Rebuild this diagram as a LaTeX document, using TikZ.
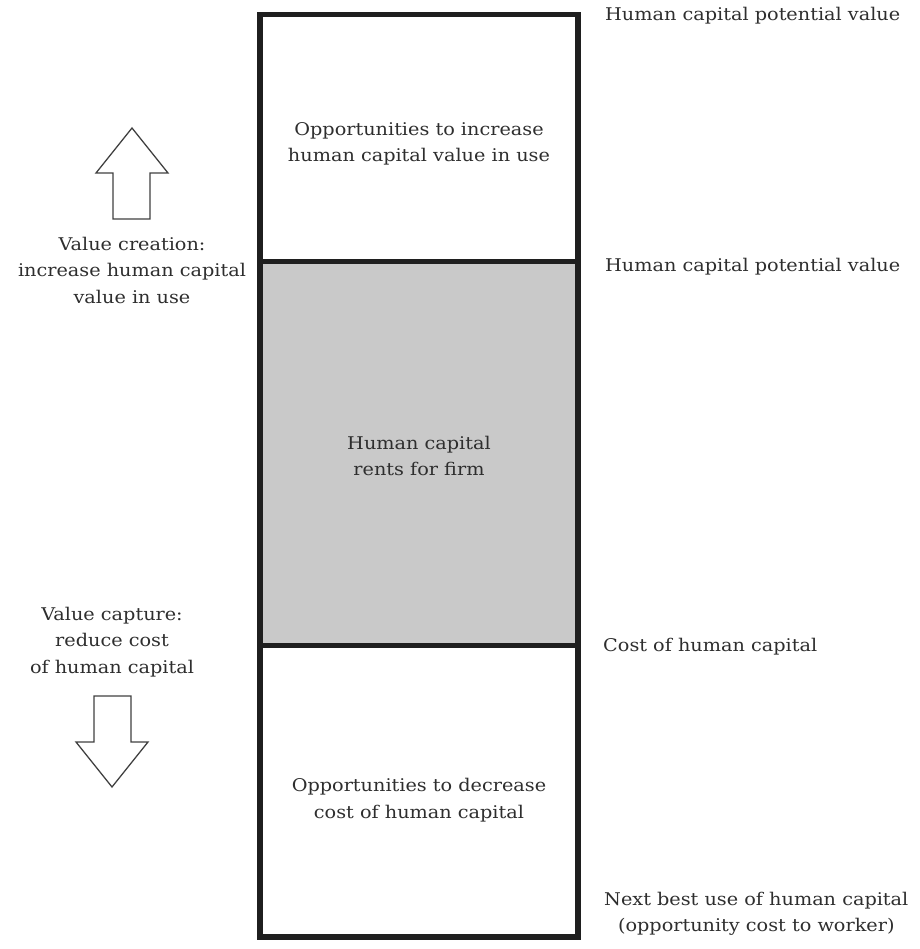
\documentclass[tikz,border=0pt]{standalone}
\usepackage{fontspec}
\setmainfont{DejaVu Serif}[FakeStretch=1.10]
\tikzset{
  column/.style={line width=5.5pt, draw=black!88, line join=miter},
  divider/.style={line width=5pt, draw=black!88},
  rentband/.style={fill=black!21},
  hollowarrow/.style={draw=black!75, line width=1.3pt, fill=white, line join=miter},
  celltext/.style={align=center, inner sep=0pt, text=black!82, font=\fontsize{17.5}{26.5}\selectfont},
  levelnote/.style={celltext, anchor=west},
}

\begin{document}
\begin{tikzpicture}[x=1pt, y=-1pt]
\useasboundingbox (0,0) rectangle (919,949);
% the column
\fill[rentband] (260,261.5) rectangle (578,645.5);
\draw[divider] (260,261.5) -- (578,261.5);
\draw[divider] (260,645.5) -- (578,645.5);
\draw[column] (260,14.5) rectangle (578,937);
\node[celltext] (gain) at (419,144) {Opportunities to increase\\human capital value in use};
\node[celltext] (rents) at (419,456) {Human capital\\rents for firm};
\node[celltext] (save) at (419,800) {Opportunities to decrease\\cost of human capital};
% levels on the right
\node[levelnote] (potential) at (605,16) {Human capital potential value};
\node[levelnote] (inuse) at (605,267) {Human capital potential value};
\node[levelnote] (cost) at (603,647) {Cost of human capital};
\node[levelnote] (nextbest) at (604,914) {Next best use of human capital\\(opportunity cost to worker)};
% arrows on the left
\draw[hollowarrow] (132,128) -- (168,173) -- (150,173) -- (150,219) -- (113,219) -- (113,173) -- (96,173) -- cycle;
\node[celltext] (creation) at (132,270) {Value creation:\\increase human capital\\value in use};
\node[celltext] (capture) at (112,642) {Value capture:\\reduce cost\\of human capital};
\draw[hollowarrow] (112,787) -- (148,742) -- (131,742) -- (131,696) -- (94,696) -- (94,742) -- (76,742) -- cycle;
\end{tikzpicture}
\end{document}
